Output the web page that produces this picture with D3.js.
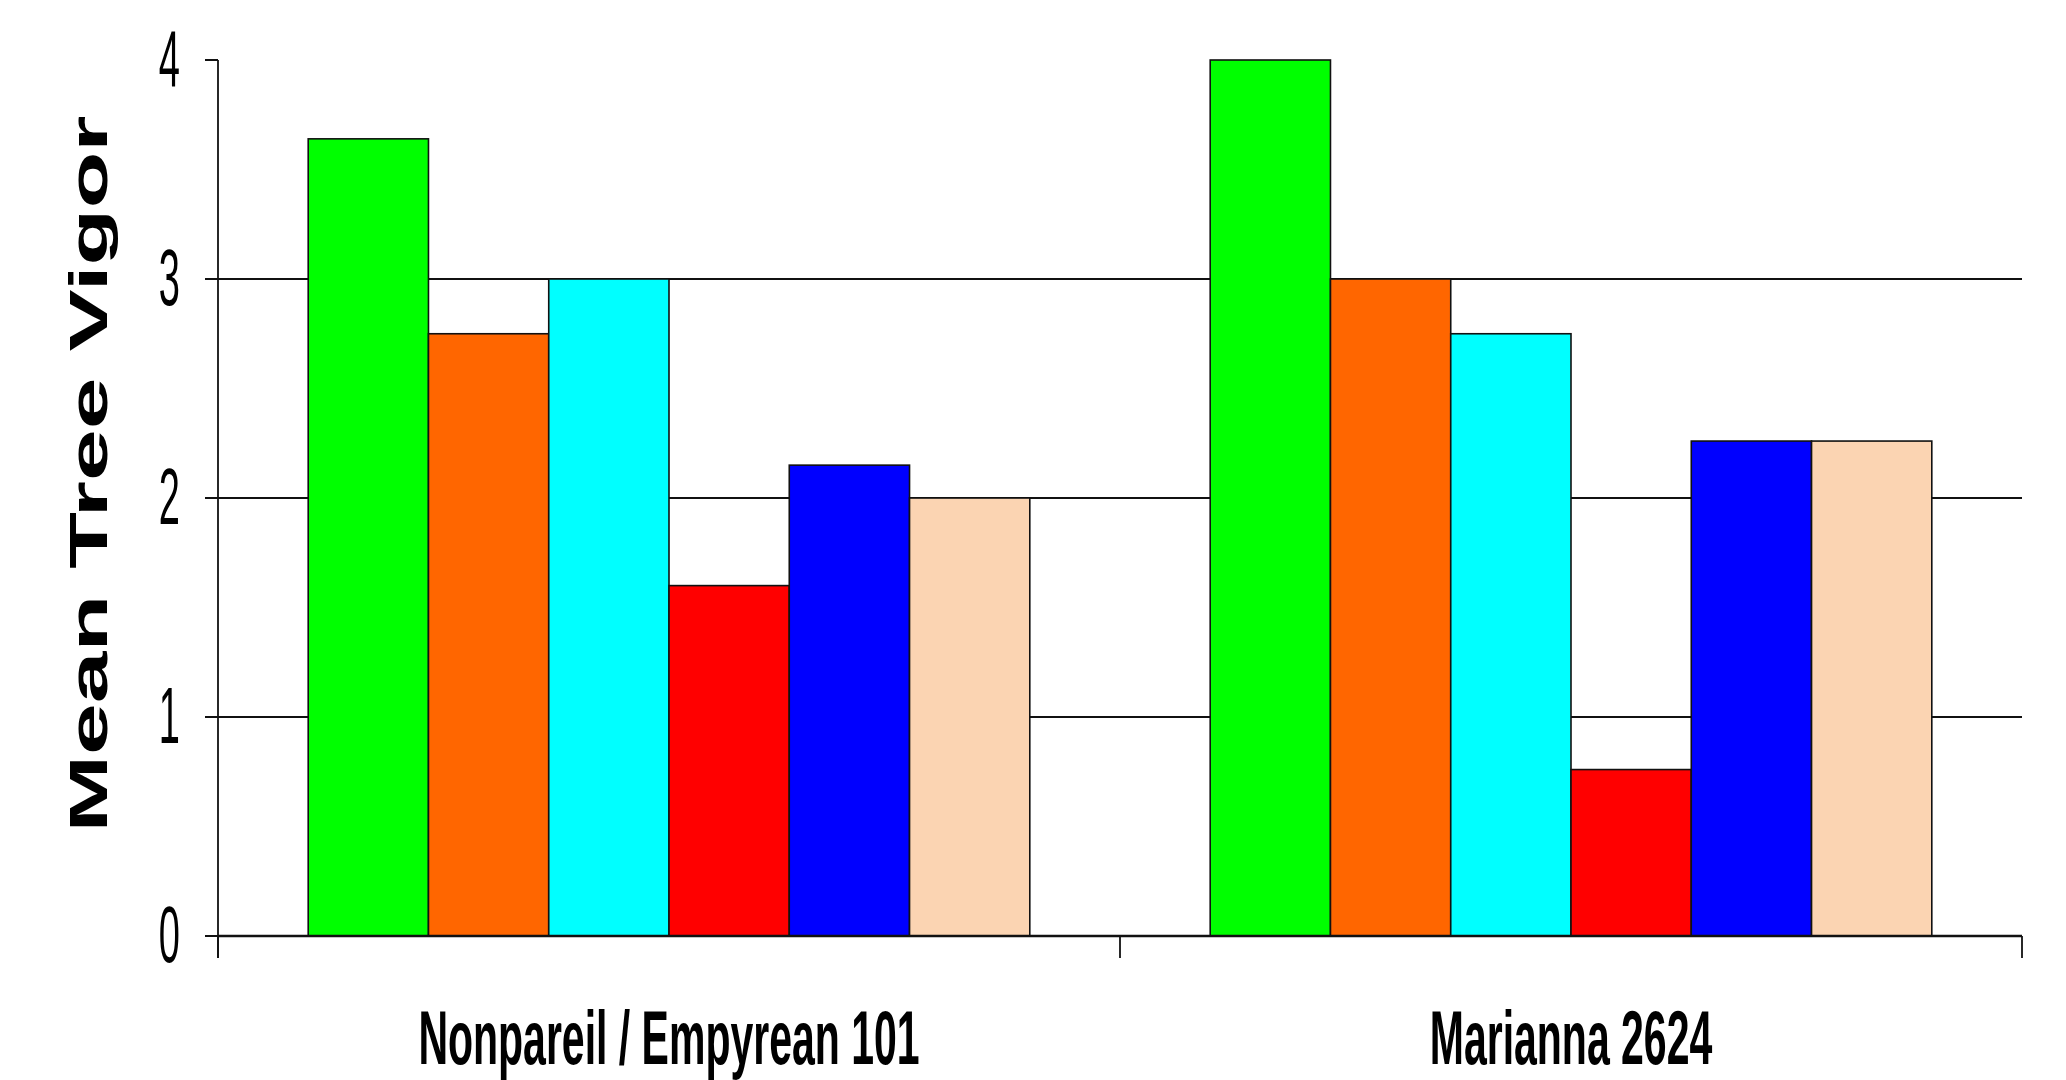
<!DOCTYPE html>
<html>
<head>
<meta charset="utf-8">
<script src="https://cdn.jsdelivr.net/npm/d3@7"></script>
<style>
  html, body { margin: 0; padding: 0; background: #ffffff; }
  svg { display: block; }
</style>
</head>
<body>
<script>
// Mean tree vigor by rootstock, six treatments per rootstock
const categories = ["Nonpareil / Empyrean 101", "Marianna 2624"];
const treatments = ["T1", "T2", "T3", "T4", "T5", "T6"];
const vigorNonpareil = [3.64, 2.75, 3.0, 1.6, 2.15, 2.0];
const vigorMarianna  = [4.0, 3.0, 2.75, 0.76, 2.26, 2.26];
const yTicks = [0, 1, 2, 3, 4];
const gridTicks = [1, 2, 3];
const colors = ["#00ff00", "#ff6600", "#00ffff", "#ff0000", "#0000ff", "#fbd4b2"];

const seriesByCategory = [vigorNonpareil, vigorMarianna];
const rows = categories.map((c, i) => ({
  category: c,
  values: treatments.map((t, j) => ({ key: t, value: seriesByCategory[i][j] }))
}));

const W = 2066, H = 1080;
const plotLeft = 218, plotRight = 2022, plotTop = 60, plotBottom = 936;

const svg = d3.select("body").append("svg")
  .attr("width", W).attr("height", H);

const y = d3.scaleLinear().domain([0, 4]).range([plotBottom, plotTop]);
const x0 = d3.scaleBand().domain(categories).range([plotLeft, plotRight]).paddingInner(0).paddingOuter(0);
const x1 = d3.scaleBand().domain(treatments).range([0, x0.bandwidth()]).paddingInner(0).paddingOuter(0.75);
const color = d3.scaleOrdinal().domain(treatments).range(colors);

// horizontal gridlines behind the bars
svg.append("g").selectAll("line").data(gridTicks).join("line")
  .attr("x1", plotLeft).attr("x2", plotRight)
  .attr("y1", d => y(d)).attr("y2", d => y(d))
  .attr("stroke", "#111").attr("stroke-width", 2);

// bars
svg.append("g").selectAll("g").data(rows).join("g")
  .attr("transform", d => `translate(${x0(d.category)},0)`)
  .selectAll("rect").data(d => d.values).join("rect")
  .attr("x", d => x1(d.key))
  .attr("width", x1.bandwidth())
  .attr("y", d => y(d.value))
  .attr("height", d => y(0) - y(d.value))
  .attr("fill", d => color(d.key))
  .attr("stroke", "#111").attr("stroke-width", 1.6);

// y axis
const yAxis = svg.append("g").attr("transform", `translate(${plotLeft},0)`);
yAxis.append("line").attr("x1", 0).attr("x2", 0)
  .attr("y1", y(4)).attr("y2", plotBottom + 22)
  .attr("stroke", "#111").attr("stroke-width", 1.8);
yAxis.selectAll("line.tick").data(yTicks).join("line")
  .attr("class", "tick")
  .attr("x1", -13).attr("x2", 0)
  .attr("y1", d => y(d)).attr("y2", d => y(d))
  .attr("stroke", "#111").attr("stroke-width", 2);
yAxis.selectAll("text").data(yTicks).join("text")
  .attr("transform", d => `translate(-38,${y(d) + 26}) scale(1,2.1)`)
  .attr("text-anchor", "end")
  .attr("font-family", "'Liberation Sans', Arial, sans-serif")
  .attr("font-size", 38)
  .attr("fill", "#000")
  .text(d => d3.format("d")(d));

// x axis baseline and category ticks
const xAxis = svg.append("g");
xAxis.append("line").attr("x1", plotLeft).attr("x2", plotRight)
  .attr("y1", plotBottom).attr("y2", plotBottom)
  .attr("stroke", "#111").attr("stroke-width", 2.5);
const edges = categories.map(c => x0(c)).concat([x0(categories[categories.length - 1]) + x0.bandwidth()]);
xAxis.selectAll("line.tick").data(edges).join("line")
  .attr("class", "tick")
  .attr("x1", d => d).attr("x2", d => d)
  .attr("y1", plotBottom).attr("y2", plotBottom + 22)
  .attr("stroke", "#111").attr("stroke-width", 1.8);
xAxis.selectAll("text").data(categories).join("text")
  .attr("transform", d => `translate(${x0(d) + x0.bandwidth() / 2},1064) scale(1,1.85)`)
  .attr("text-anchor", "middle")
  .attr("font-family", "'Liberation Sans', Arial, sans-serif")
  .attr("font-weight", "bold")
  .attr("font-size", 41)
  .attr("fill", "#000")
  .text(d => d);

// y axis title
svg.append("text")
  .attr("transform", "translate(107,474) rotate(-90)")
  .attr("text-anchor", "middle")
  .attr("font-family", "'Liberation Sans', Arial, sans-serif")
  .attr("font-weight", "bold")
  .attr("font-size", 53)
  .attr("textLength", 717)
  .attr("lengthAdjust", "spacingAndGlyphs")
  .attr("fill", "#000")
  .text("Mean Tree Vigor");
</script>
</body>
</html>
